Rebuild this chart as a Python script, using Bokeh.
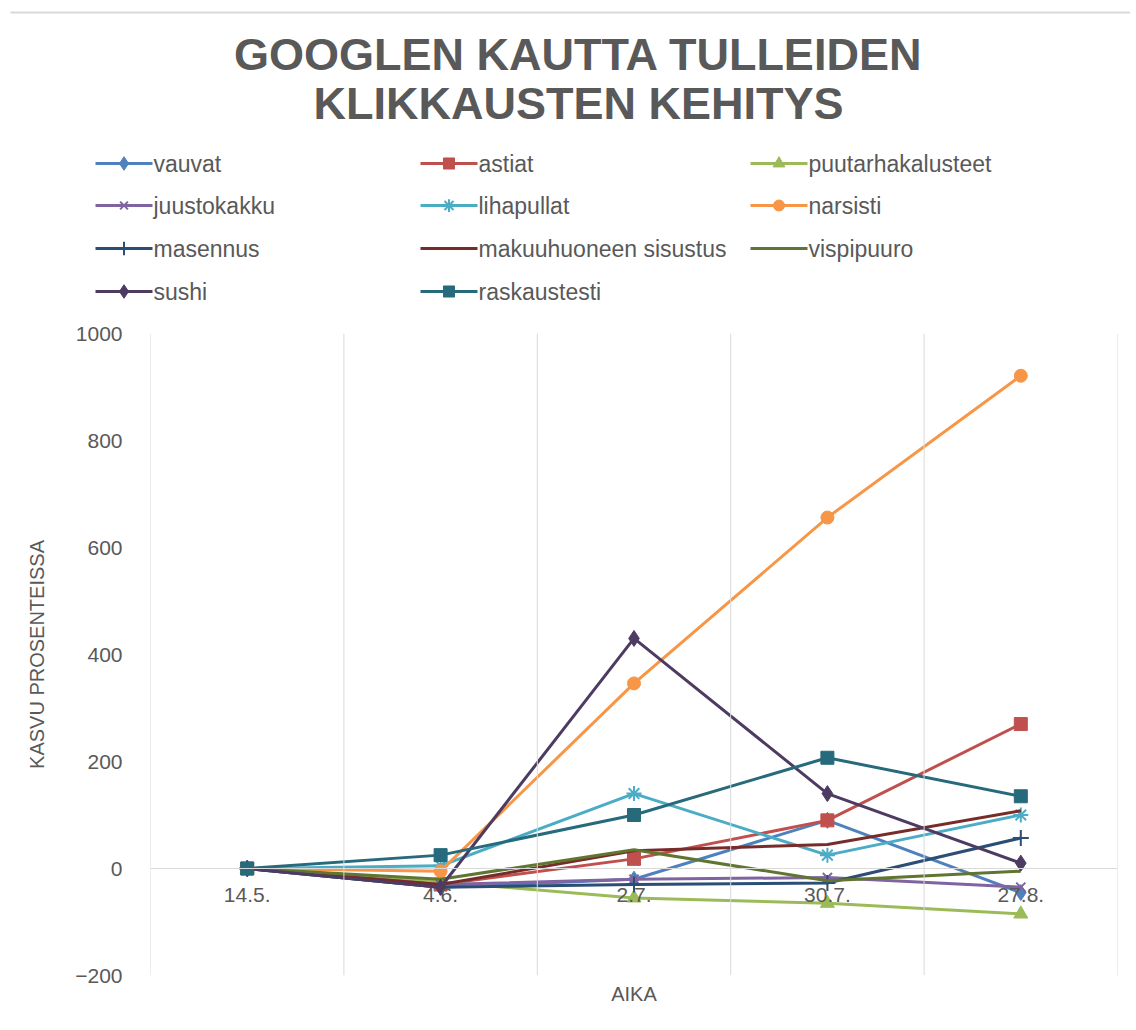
from bokeh.plotting import figure
from bokeh.layouts import column
from bokeh.models import Range1d, FactorRange, Span, FixedTicker, Title
from bokeh.embed import file_html
from bokeh.resources import INLINE
from bokeh.core.properties import value

categories = ["14.5.", "4.6.", "2.7.", "30.7.", "27.8."]

vauvat = [0, -35, -20, 90, -45]
astiat = [0, -30, 18, 90, 270]
puutarhakalusteet = [0, -25, -55, -65, -85]
juustokakku = [0, -30, -20, -17, -35]
lihapullat = [0, 5, 140, 25, 100]
narsisti = [0, -5, 346, 656, 921]
masennus = [0, -35, -30, -27, 57]
makuuhuoneen_sisustus = [0, -30, 33, 45, 108]
vispipuuro = [0, -20, 35, -23, -5]
sushi = [0, -35, 430, 140, 10]
raskaustesti = [0, 25, 100, 207, 135]

series_names = ["vauvat", "astiat", "puutarhakalusteet", "juustokakku", "lihapullat",
                " narsisti", "masennus", "makuuhuoneen sisustus", "vispipuuro",
                "sushi", "raskaustesti"]
series_values = [vauvat, astiat, puutarhakalusteet, juustokakku, lihapullat, narsisti,
                 masennus, makuuhuoneen_sisustus, vispipuuro, sushi, raskaustesti]
colors = ["#4F81BD", "#C0504D", "#9BBB59", "#8064A2", "#4BACC6", "#F79646",
          "#2C4D75", "#772C2A", "#5F7530", "#4D3B62", "#276A7C"]
markers = ["diamond", "square", "triangle", "x", "asterisk", "circle",
           "cross", None, None, "diamond", "square"]
marker_sizes = [16, 13, 14, 13, 15, 13, 16, 0, 0, 16, 13]

title_lines = ["GOOGLEN KAUTTA TULLEIDEN", "KLIKKAUSTEN KEHITYS"]
y_ticks = [-200, 0, 200, 400, 600, 800, 1000]

FONT = "Liberation Sans"
GRAY = "#595959"

W = 1130
HDR_H = 318
MAIN_H = 702
FL, FR, FT, FB = 150, 1117, 333, 975   # frame edges on the page

# ---------- header: title + legend ----------
hdr = figure(width=W, height=HDR_H, x_range=Range1d(0, W), y_range=Range1d(HDR_H, 0),
             output_backend="svg", toolbar_location=None,
             x_axis_location=None, y_axis_location=None, min_border=0,
             outline_line_color=None, frame_align=False)
hdr.grid.visible = False
hdr.line([10, W], [12, 12], line_color="#d9d9d9", line_width=2)
hdr.text(x=[578, 578], y=[54, 103], text=title_lines, text_align="center",
         text_baseline="middle", text_font=value(FONT), text_font_style="bold",
         text_font_size="45px", text_color=GRAY)

col_x = [95, 420, 750]
row_y = [163, 205, 248, 291]
LINE_LEN = 57
for i, name in enumerate(series_names):
    cx = col_x[i % 3]
    ry = row_y[i // 3]
    hdr.line([cx, cx + LINE_LEN], [ry, ry], line_color=colors[i], line_width=3)
    if markers[i] is not None:
        filled = markers[i] not in ("x", "asterisk", "cross")
        hdr.scatter([cx + LINE_LEN / 2], [ry], marker=markers[i],
                    size=marker_sizes[i] * 0.85,
                    fill_color=colors[i] if filled else None,
                    line_color=colors[i], line_width=2 if not filled else 1)
    hdr.text(x=[cx + LINE_LEN + 1], y=[ry], text=[name], text_align="left",
             text_baseline="middle", text_font=value(FONT), text_font_size="23px",
             text_color=GRAY)

# ---------- main chart ----------
p = figure(width=W, height=MAIN_H, x_range=FactorRange(factors=categories),
           y_range=Range1d(-200, 1000), output_backend="svg", toolbar_location=None,
           min_border_left=FL, min_border_right=W - FR, min_border_top=FT - HDR_H,
           min_border_bottom=HDR_H + MAIN_H - FB, outline_line_color=None,
           frame_align=False)
p.xgrid.visible = False
p.ygrid.visible = False

for loc in range(len(categories) + 1):
    p.add_layout(Span(location=loc, dimension="height", line_color="#d9d9d9", line_width=1))

p.xaxis.fixed_location = 0
p.xaxis.axis_line_color = "#d9d9d9"
p.xaxis.major_tick_line_color = None
p.xaxis.minor_tick_line_color = None
p.xaxis.major_label_text_font = FONT
p.xaxis.major_label_text_font_size = "21px"
p.xaxis.major_label_text_color = GRAY
p.xaxis.major_label_standoff = 13

p.yaxis.ticker = FixedTicker(ticks=y_ticks)
p.yaxis.axis_line_color = None
p.yaxis.major_tick_line_color = None
p.yaxis.minor_tick_line_color = None
p.yaxis.major_label_text_font = FONT
p.yaxis.major_label_text_font_size = "21px"
p.yaxis.major_label_text_color = GRAY
p.yaxis.major_label_standoff = 22
p.yaxis.axis_label = "KASVU PROSENTEISSA"
p.yaxis.axis_label_text_font = FONT
p.yaxis.axis_label_text_font_style = "normal"
p.yaxis.axis_label_text_font_size = "20px"
p.yaxis.axis_label_text_color = GRAY
p.yaxis.axis_label_standoff = 24

p.add_layout(Title(text="AIKA", align="center", text_font=FONT, text_font_size="20px",
                   text_font_style="normal", text_color=GRAY), "below")

for i, vals in enumerate(series_values):
    p.line(categories, vals, line_color=colors[i], line_width=3)
    if markers[i] is not None:
        filled = markers[i] not in ("x", "asterisk", "cross")
        p.scatter(categories, vals, marker=markers[i], size=marker_sizes[i],
                  fill_color=colors[i] if filled else None,
                  line_color=colors[i], line_width=2 if not filled else 1)

layout = column(hdr, p, spacing=0)
open("out.html", "w").write(file_html(layout, INLINE))
